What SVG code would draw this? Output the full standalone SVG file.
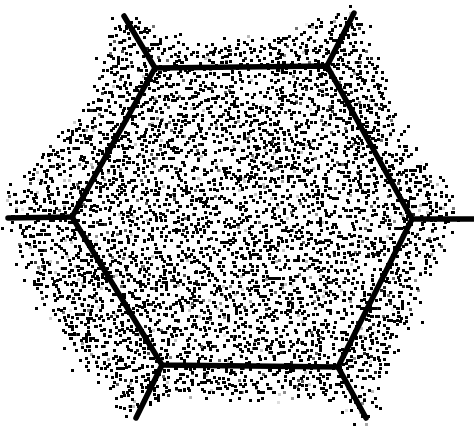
<svg xmlns="http://www.w3.org/2000/svg" width="474" height="430" viewBox="0 0 474 430">
<defs>
<style>
.edge{fill:none;stroke:#000;stroke-width:5.5;stroke-linecap:round;stroke-linejoin:miter}
</style>
<filter id="stip" filterUnits="userSpaceOnUse" x="0" y="0" width="474" height="430" color-interpolation-filters="sRGB">
<feTurbulence type="fractalNoise" baseFrequency="0.5" numOctaves="1" seed="11" result="n0"/>
<feColorMatrix in="n0" type="matrix" values="0 0 0 0 0  0 0 0 0 0  0 0 0 0 0  1 0 0 0 0" result="n"/>
<feGaussianBlur in="SourceGraphic" stdDeviation="7" result="b"/>
<feComposite in="n" in2="b" operator="arithmetic" k1="0" k2="200" k3="30" k4="-171.5" result="d"/>
<feColorMatrix in="d" type="matrix" values="0 0 0 0 0  0 0 0 0 0  0 0 0 0 0  0 0 0 1 0" result="d2"/>
<feMorphology in="d2" operator="dilate" radius="1"/>
</filter>
</defs>
<rect width="474" height="430" fill="#fff"/>
<g id="stipple" filter="url(#stip)">
<path fill="#000" d="M 120,10 C 140,8 150,25 175,32 C 205,42 250,38 285,30 C 310,24 320,8 345,4 C 362,2 368,20 375,40 C 385,75 400,110 420,140 C 440,168 465,190 462,212 L 460,228 C 450,250 435,270 425,300 C 415,330 395,360 385,385 C 378,405 380,420 372,428 L 355,428 C 340,410 320,400 290,402 C 250,405 200,400 170,405 C 150,408 140,425 125,425 C 115,415 110,395 95,380 C 75,360 50,330 35,300 C 20,270 10,250 5,230 L 3,195 C 15,180 30,160 45,145 C 65,125 85,100 95,75 C 102,55 100,25 120,10 Z"/>
</g>
<g id="hexagon">
<polygon class="edge" points="155,68 327,66 412,219 338,367 162,365 72,217"/>
</g>
<g id="spokes">
<line class="edge" x1="155" y1="68" x2="124" y2="16"/>
<line class="edge" x1="327" y1="66" x2="354" y2="13"/>
<line class="edge" x1="412" y1="219" x2="474" y2="219"/>
<line class="edge" x1="338" y1="367" x2="366" y2="418"/>
<line class="edge" x1="162" y1="365" x2="136" y2="418"/>
<line class="edge" x1="72" y1="217" x2="8" y2="218"/>
</g>
</svg>
